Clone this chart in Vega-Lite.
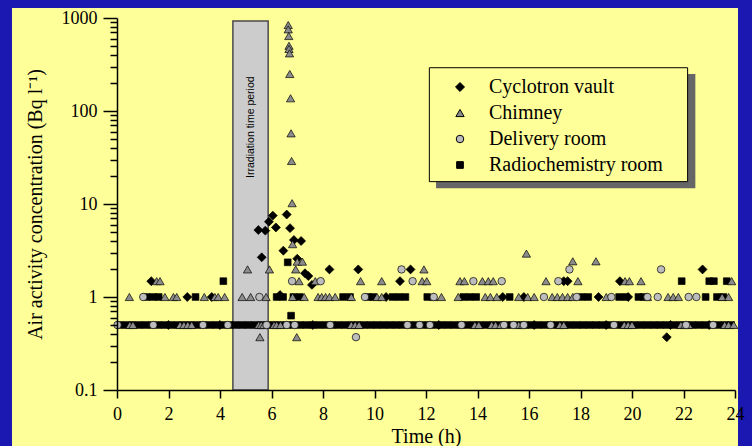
{
"$schema": "https://vega.github.io/schema/vega-lite/v6.json",
"width": 618, "height": 372,
"autosize": "none",
"padding": {"left": 117, "top": 18, "right": 17, "bottom": 56},
"background": "#1a18b0",
"config": {"view": {"stroke": null}, "font": "Liberation Serif", "axis": {"grid": false}},
"datasets": {
"irr": [{"start": 4.5, "end": 5.87, "label": "Irradiation time period"}],
"pts": [
{"s":"R","t":0.1,"v":0.5},{"s":"R","t":0.35,"v":0.5},{"s":"R","t":0.6,"v":0.5},{"s":"R","t":0.85,"v":0.5},{"s":"R","t":1.1,"v":0.5},{"s":"R","t":1.35,"v":0.5},{"s":"R","t":1.6,"v":0.5},{"s":"R","t":1.85,"v":0.5},{"s":"R","t":2.1,"v":0.5},{"s":"R","t":2.35,"v":0.5},{"s":"R","t":2.6,"v":0.5},{"s":"R","t":2.85,"v":0.5},{"s":"R","t":3.1,"v":0.5},{"s":"R","t":3.35,"v":0.5},{"s":"R","t":3.6,"v":0.5},{"s":"R","t":3.85,"v":0.5},{"s":"R","t":4.1,"v":0.5},{"s":"R","t":4.35,"v":0.5},{"s":"R","t":4.6,"v":0.5},{"s":"R","t":4.85,"v":0.5},{"s":"R","t":5.1,"v":0.5},{"s":"R","t":5.35,"v":0.5},{"s":"R","t":5.6,"v":0.5},{"s":"R","t":5.85,"v":0.5},{"s":"R","t":6.1,"v":0.5},{"s":"R","t":6.35,"v":0.5},{"s":"R","t":6.6,"v":0.5},{"s":"R","t":6.85,"v":0.5},{"s":"R","t":7.1,"v":0.5},{"s":"R","t":7.35,"v":0.5},{"s":"R","t":7.6,"v":0.5},{"s":"R","t":7.85,"v":0.5},{"s":"R","t":8.1,"v":0.5},{"s":"R","t":8.35,"v":0.5},{"s":"R","t":8.6,"v":0.5},{"s":"R","t":8.85,"v":0.5},{"s":"R","t":9.1,"v":0.5},{"s":"R","t":9.35,"v":0.5},{"s":"R","t":9.6,"v":0.5},{"s":"R","t":9.85,"v":0.5},{"s":"R","t":10.1,"v":0.5},{"s":"R","t":10.35,"v":0.5},{"s":"R","t":10.6,"v":0.5},{"s":"R","t":10.85,"v":0.5},{"s":"R","t":11.1,"v":0.5},{"s":"R","t":11.35,"v":0.5},{"s":"R","t":11.6,"v":0.5},{"s":"R","t":11.85,"v":0.5},{"s":"R","t":12.1,"v":0.5},{"s":"R","t":12.35,"v":0.5},{"s":"R","t":12.6,"v":0.5},{"s":"R","t":12.85,"v":0.5},{"s":"R","t":13.1,"v":0.5},{"s":"R","t":13.35,"v":0.5},{"s":"R","t":13.6,"v":0.5},{"s":"R","t":13.85,"v":0.5},{"s":"R","t":14.1,"v":0.5},{"s":"R","t":14.35,"v":0.5},{"s":"R","t":14.6,"v":0.5},{"s":"R","t":14.85,"v":0.5},{"s":"R","t":15.1,"v":0.5},{"s":"R","t":15.35,"v":0.5},{"s":"R","t":15.6,"v":0.5},{"s":"R","t":15.85,"v":0.5},{"s":"R","t":16.1,"v":0.5},{"s":"R","t":16.35,"v":0.5},{"s":"R","t":16.6,"v":0.5},{"s":"R","t":16.85,"v":0.5},{"s":"R","t":17.1,"v":0.5},{"s":"R","t":17.35,"v":0.5},{"s":"R","t":17.6,"v":0.5},{"s":"R","t":17.85,"v":0.5},{"s":"R","t":18.1,"v":0.5},{"s":"R","t":18.35,"v":0.5},{"s":"R","t":18.6,"v":0.5},{"s":"R","t":18.85,"v":0.5},{"s":"R","t":19.1,"v":0.5},{"s":"R","t":19.35,"v":0.5},{"s":"R","t":19.6,"v":0.5},{"s":"R","t":19.85,"v":0.5},{"s":"R","t":20.1,"v":0.5},{"s":"R","t":20.35,"v":0.5},{"s":"R","t":20.6,"v":0.5},{"s":"R","t":20.85,"v":0.5},{"s":"R","t":21.1,"v":0.5},{"s":"R","t":21.35,"v":0.5},{"s":"R","t":21.6,"v":0.5},{"s":"R","t":21.85,"v":0.5},{"s":"R","t":22.1,"v":0.5},{"s":"R","t":22.35,"v":0.5},{"s":"R","t":22.6,"v":0.5},{"s":"R","t":22.85,"v":0.5},{"s":"R","t":23.1,"v":0.5},{"s":"R","t":23.35,"v":0.5},{"s":"R","t":23.6,"v":0.5},{"s":"R","t":23.85,"v":0.5},
{"s":"R","t":1.15,"v":1},{"s":"R","t":1.4,"v":1},{"s":"R","t":1.62,"v":1},{"s":"R","t":3.05,"v":1},{"s":"R","t":6.2,"v":1},{"s":"R","t":6.45,"v":1},{"s":"R","t":6.85,"v":1},{"s":"R","t":7.1,"v":1},{"s":"R","t":8.78,"v":1},{"s":"R","t":9.05,"v":1},{"s":"R","t":9.75,"v":1},{"s":"R","t":9.95,"v":1},{"s":"R","t":10.7,"v":1},{"s":"R","t":10.95,"v":1},{"s":"R","t":11.2,"v":1},{"s":"R","t":12.05,"v":1},{"s":"R","t":13.45,"v":1},{"s":"R","t":13.7,"v":1},{"s":"R","t":13.95,"v":1},{"s":"R","t":15.25,"v":1},{"s":"R","t":18.05,"v":1},{"s":"R","t":18.3,"v":1},{"s":"R","t":19.5,"v":1},{"s":"R","t":19.75,"v":1},{"s":"R","t":20.25,"v":1},{"s":"R","t":20.45,"v":1},{"s":"R","t":22.86,"v":1},{"s":"R","t":23.3,"v":1},{"s":"R","t":23.55,"v":1},
{"s":"R","t":4.13,"v":1.48},{"s":"R","t":21.93,"v":1.48},{"s":"R","t":23.0,"v":1.48},{"s":"R","t":23.18,"v":1.48},{"s":"R","t":23.68,"v":1.48},{"s":"R","t":6.63,"v":2.36},{"s":"R","t":6.76,"v":0.63},
{"s":"C","t":2.0,"v":0.5},{"s":"C","t":4.0,"v":0.5},{"s":"C","t":7.6,"v":0.5},{"s":"C","t":12.5,"v":0.5},{"s":"C","t":16.2,"v":0.5},{"s":"C","t":19.0,"v":0.5},{"s":"C","t":21.5,"v":0.5},{"s":"C","t":23.0,"v":0.5},
{"s":"C","t":5.49,"v":5.25},{"s":"C","t":5.62,"v":2.67},{"s":"C","t":5.76,"v":5.17},{"s":"C","t":5.9,"v":6.45},{"s":"C","t":6.05,"v":7.5},{"s":"C","t":6.17,"v":5.6},{"s":"C","t":6.33,"v":1.05},{"s":"C","t":6.46,"v":3.15},{"s":"C","t":6.59,"v":7.7},{"s":"C","t":6.72,"v":5.5},{"s":"C","t":6.87,"v":4.1},{"s":"C","t":7.0,"v":2.58},{"s":"C","t":7.15,"v":4.0},{"s":"C","t":7.3,"v":1.8},{"s":"C","t":7.43,"v":1.68},{"s":"C","t":7.57,"v":1.35},
{"s":"C","t":8.25,"v":1.98},{"s":"C","t":9.37,"v":1.98},{"s":"C","t":11.4,"v":1.98},{"s":"C","t":22.74,"v":1.98},
{"s":"C","t":1.33,"v":1.48},{"s":"C","t":10.99,"v":1.48},{"s":"C","t":17.35,"v":1.48},{"s":"C","t":17.5,"v":1.48},{"s":"C","t":19.53,"v":1.48},
{"s":"C","t":2.73,"v":1},{"s":"C","t":3.68,"v":1},{"s":"C","t":10.45,"v":1},{"s":"C","t":14.98,"v":1},{"s":"C","t":15.8,"v":1},{"s":"C","t":18.7,"v":1},{"s":"C","t":19.85,"v":1},{"s":"C","t":21.35,"v":0.37},
{"s":"H","t":6.65,"v":840},{"s":"H","t":6.65,"v":755},{"s":"H","t":6.67,"v":640},{"s":"H","t":6.68,"v":503},{"s":"H","t":6.68,"v":465},{"s":"H","t":6.7,"v":417},{"s":"H","t":6.71,"v":250},{"s":"H","t":6.74,"v":137},{"s":"H","t":6.76,"v":57.5},{"s":"H","t":6.78,"v":29},{"s":"H","t":6.8,"v":10.2},{"s":"H","t":6.82,"v":3.7},
{"s":"H","t":7.0,"v":2.4},{"s":"H","t":7.2,"v":2.4},{"s":"H","t":17.7,"v":2.42},{"s":"H","t":18.6,"v":2.42},{"s":"H","t":15.9,"v":2.93},
{"s":"H","t":5.07,"v":1.98},{"s":"H","t":5.92,"v":1.98},{"s":"H","t":6.94,"v":1.98},{"s":"H","t":11.92,"v":1.98},
{"s":"H","t":1.54,"v":1.48},{"s":"H","t":1.67,"v":1.48},{"s":"H","t":7.07,"v":1.48},{"s":"H","t":7.7,"v":1.48},{"s":"H","t":9.46,"v":1.48},{"s":"H","t":10.28,"v":1.48},{"s":"H","t":11.85,"v":1.48},{"s":"H","t":12.03,"v":1.48},{"s":"H","t":13.32,"v":1.48},{"s":"H","t":13.49,"v":1.48},{"s":"H","t":14.19,"v":1.48},{"s":"H","t":14.42,"v":1.48},{"s":"H","t":14.61,"v":1.48},{"s":"H","t":16.66,"v":1.48},{"s":"H","t":17.9,"v":1.48},{"s":"H","t":19.73,"v":1.48},{"s":"H","t":19.9,"v":1.48},{"s":"H","t":20.35,"v":1.48},{"s":"H","t":23.87,"v":1.48},
{"s":"H","t":0.48,"v":1},{"s":"H","t":1.86,"v":1},{"s":"H","t":2.19,"v":1},{"s":"H","t":2.32,"v":1},{"s":"H","t":3.39,"v":1},{"s":"H","t":3.8,"v":1},{"s":"H","t":3.93,"v":1},{"s":"H","t":4.18,"v":1},{"s":"H","t":4.86,"v":1},{"s":"H","t":5.19,"v":1},{"s":"H","t":5.79,"v":1},{"s":"H","t":6.82,"v":1},{"s":"H","t":7.27,"v":1},{"s":"H","t":7.81,"v":1},{"s":"H","t":7.95,"v":1},{"s":"H","t":8.1,"v":1},{"s":"H","t":8.25,"v":1},{"s":"H","t":8.47,"v":1},{"s":"H","t":9.1,"v":1},{"s":"H","t":10.1,"v":1},{"s":"H","t":10.28,"v":1},{"s":"H","t":12.3,"v":1},{"s":"H","t":12.6,"v":1},{"s":"H","t":13.25,"v":1},{"s":"H","t":14.3,"v":1},{"s":"H","t":14.5,"v":1},{"s":"H","t":14.75,"v":1},{"s":"H","t":15.6,"v":1},{"s":"H","t":15.95,"v":1},{"s":"H","t":16.2,"v":1},{"s":"H","t":16.9,"v":1},{"s":"H","t":17.1,"v":1},{"s":"H","t":17.3,"v":1},{"s":"H","t":17.5,"v":1},{"s":"H","t":17.7,"v":1},{"s":"H","t":19.0,"v":1},{"s":"H","t":20.6,"v":1},{"s":"H","t":21.4,"v":1},{"s":"H","t":21.6,"v":1},{"s":"H","t":21.8,"v":1},{"s":"H","t":23.5,"v":1},{"s":"H","t":23.75,"v":1},
{"s":"H","t":5.55,"v":0.37},{"s":"H","t":6.98,"v":0.37},
{"s":"H","t":0.5,"v":0.5},{"s":"H","t":0.62,"v":0.5},{"s":"H","t":2.45,"v":0.5},{"s":"H","t":2.6,"v":0.5},{"s":"H","t":2.75,"v":0.5},{"s":"H","t":2.9,"v":0.5},{"s":"H","t":5.5,"v":0.5},{"s":"H","t":5.6,"v":0.5},{"s":"H","t":5.7,"v":0.5},{"s":"H","t":6.1,"v":0.5},{"s":"H","t":6.2,"v":0.5},{"s":"H","t":6.35,"v":0.5},{"s":"H","t":9.1,"v":0.5},{"s":"H","t":9.25,"v":0.5},{"s":"H","t":9.4,"v":0.5},{"s":"H","t":13.9,"v":0.5},{"s":"H","t":14.05,"v":0.5},{"s":"H","t":14.55,"v":0.5},{"s":"H","t":14.7,"v":0.5},{"s":"H","t":14.9,"v":0.5},{"s":"H","t":15.6,"v":0.5},{"s":"H","t":15.75,"v":0.5},{"s":"H","t":17.2,"v":0.5},{"s":"H","t":17.35,"v":0.5},{"s":"H","t":19.7,"v":0.5},{"s":"H","t":19.85,"v":0.5},{"s":"H","t":20.0,"v":0.5},{"s":"H","t":21.9,"v":0.5},{"s":"H","t":22.05,"v":0.5},{"s":"H","t":22.2,"v":0.5},{"s":"H","t":23.6,"v":0.5},{"s":"H","t":23.75,"v":0.5},{"s":"H","t":23.95,"v":0.5},
{"s":"D","t":1.02,"v":1},{"s":"D","t":5.53,"v":1},{"s":"D","t":9.63,"v":1},{"s":"D","t":12.3,"v":1},{"s":"D","t":16.58,"v":1},{"s":"D","t":17.85,"v":1},{"s":"D","t":19.2,"v":1},{"s":"D","t":20.6,"v":1},{"s":"D","t":21.0,"v":1},{"s":"D","t":22.2,"v":1},{"s":"D","t":22.5,"v":1},
{"s":"D","t":6.8,"v":1.48},{"s":"D","t":7.91,"v":1.48},{"s":"D","t":11.48,"v":1.48},{"s":"D","t":13.84,"v":1.48},{"s":"D","t":14.94,"v":1.48},{"s":"D","t":17.14,"v":1.48},
{"s":"D","t":11.05,"v":1.98},{"s":"D","t":17.57,"v":1.98},{"s":"D","t":21.13,"v":1.98},{"s":"D","t":9.28,"v":0.37},
{"s":"D","t":0.02,"v":0.5},{"s":"D","t":1.41,"v":0.5},{"s":"D","t":3.34,"v":0.5},{"s":"D","t":4.3,"v":0.5},{"s":"D","t":5.81,"v":0.5},{"s":"D","t":6.59,"v":0.5},{"s":"D","t":6.9,"v":0.5},{"s":"D","t":8.28,"v":0.5},{"s":"D","t":11.28,"v":0.5},{"s":"D","t":11.75,"v":0.5},{"s":"D","t":12.15,"v":0.5},{"s":"D","t":13.38,"v":0.5},{"s":"D","t":15.03,"v":0.5},{"s":"D","t":15.4,"v":0.5},{"s":"D","t":15.8,"v":0.5},{"s":"D","t":16.84,"v":0.5},{"s":"D","t":19.3,"v":0.5},{"s":"D","t":22.1,"v":0.5},{"s":"D","t":23.15,"v":0.5}
]
},
"layer": [
{"data": {"name": "irr"}, "mark": {"type": "rect", "fill": "#ffff99"},
 "encoding": {
  "x": {"datum": -4.078, "type": "quantitative", "scale": {"domain": [0, 24], "nice": false, "zero": false}},
  "x2": {"datum": 24.117},
  "y": {"datum": 1281, "type": "quantitative", "scale": {"type": "log", "domain": [0.1, 1000], "nice": false}},
  "y2": {"datum": 0.025}}},
{"data": {"name": "irr"}, "mark": {"type": "rect", "fill": "#cccccc", "stroke": "#4a4a4a", "strokeWidth": 1.5},
 "encoding": {
  "x": {"field": "start", "type": "quantitative", "scale": {"domain": [0, 24], "nice": false, "zero": false}},
  "x2": {"field": "end"},
  "y": {"datum": 930, "type": "quantitative", "scale": {"type": "log", "domain": [0.1, 1000], "nice": false}},
  "y2": {"datum": 0.1}}},
{"data": {"name": "irr"}, "mark": {"type": "text", "angle": 270, "font": "Liberation Sans", "fontSize": 10.5, "color": "black", "align": "center", "baseline": "middle"},
 "encoding": {
  "x": {"datum": 5.2, "type": "quantitative", "scale": {"domain": [0, 24], "nice": false, "zero": false}},
  "y": {"datum": 67, "type": "quantitative", "scale": {"type": "log", "domain": [0.1, 1000], "nice": false}},
  "text": {"field": "label"}}},
{"data": {"name": "irr"}, "mark": {"type": "rect", "fill": "#666666"},
 "encoding": {
  "x": {"datum": 12.39, "type": "quantitative", "scale": {"domain": [0, 24], "nice": false, "zero": false}},
  "x2": {"datum": 22.46},
  "y": {"datum": 250, "type": "quantitative", "scale": {"type": "log", "domain": [0.1, 1000], "nice": false}},
  "y2": {"datum": 14.8}}},
{"data": {"name": "irr"}, "mark": {"type": "rect", "fill": "#ffff99", "stroke": "black", "strokeWidth": 1},
 "encoding": {
  "x": {"datum": 12.13, "type": "quantitative", "scale": {"domain": [0, 24], "nice": false, "zero": false}},
  "x2": {"datum": 22.16},
  "y": {"datum": 292, "type": "quantitative", "scale": {"type": "log", "domain": [0.1, 1000], "nice": false}},
  "y2": {"datum": 17.4}}},
{"data": {"name": "pts"}, "mark": {"type": "point", "filled": true, "stroke": "black", "strokeWidth": 0.7, "opacity": 1},
 "encoding": {
  "x": {"field": "t", "type": "quantitative", "scale": {"domain": [0, 24], "nice": false, "zero": false},
   "axis": {"title": "Time (h)", "zindex": 2, "values": [0,1,2,3,4,5,6,7,8,9,10,11,12,13,14,15,16,17,18,19,20,21,22,23,24],
    "labelExpr": "datum.value % 2 == 0 ? datum.label : ''", "tickSize": 8, "tickColor": "black", "tickWidth": 1.5,
    "domainColor": "black", "domainWidth": 1.5, "labelFont": "Liberation Serif", "labelFontSize": 18, "labelColor": "black",
    "labelPadding": 7, "labelFlush": false, "labelOverlap": false, "titleFont": "Liberation Serif", "titleFontSize": 20, "titleFontWeight": "normal",
    "titleColor": "black", "titleY": 46, "titleBaseline": "middle"}},
  "y": {"field": "v", "type": "quantitative", "scale": {"type": "log", "domain": [0.1, 1000], "nice": false},
   "axis": {"title": "Air activity concentration (Bq l⁻¹)", "zindex": 2,
    "values": [0.1,0.2,0.3,0.4,0.5,0.6,0.7,0.8,0.9,1,2,3,4,5,6,7,8,9,10,20,30,40,50,60,70,80,90,100,200,300,400,500,600,700,800,900,1000],
    "labelExpr": "datum.value==0.1?'0.1':datum.value==1?'1':datum.value==10?'10':datum.value==100?'100':datum.value==1000?'1000':''",
    "tickSize": {"condition": {"test": "datum.value==0.1||datum.value==1||datum.value==10||datum.value==100||datum.value==1000", "value": 14}, "value": 7},
    "tickColor": "black", "tickWidth": 1.5, "domainColor": "black", "domainWidth": 1.5,
    "labelFont": "Liberation Serif", "labelFontSize": 18, "labelColor": "black", "labelPadding": 6, "labelOverlap": false, "labelFlush": false,
    "titleFont": "Liberation Serif", "titleFontSize": 20, "titleFontWeight": "normal", "titleColor": "black",
    "titleX": -82, "titleY": 186, "titleAngle": -90, "titleAlign": "center", "titleBaseline": "middle"}},
  "shape": {"field": "s", "type": "nominal", "scale": {"domain": ["C","H","D","R"], "range": ["diamond","triangle-up","circle","square"]},
   "legend": {"orient": "none", "legendX": 333, "legendY": 59, "title": null, "symbolSize": 130, "symbolStrokeColor": "black", "symbolStrokeWidth": 1,
    "labelFont": "Liberation Serif", "labelFontSize": 20, "labelColor": "black", "labelOffset": 19, "labelLimit": 400, "rowPadding": 6, "padding": 0,
    "labelExpr": "datum.label=='C'?'Cyclotron vault':datum.label=='H'?'Chimney':datum.label=='D'?'Delivery room':'Radiochemistry room'"}},
  "color": {"field": "s", "type": "nominal", "scale": {"domain": ["C","H","D","R"], "range": ["#000000","#8c8c8c","#bdbdbd","#000000"]},
   "legend": {"orient": "none", "legendX": 333, "legendY": 59, "title": null, "symbolSize": 130, "symbolStrokeColor": "black", "symbolStrokeWidth": 1,
    "labelFont": "Liberation Serif", "labelFontSize": 20, "labelColor": "black", "labelOffset": 19, "labelLimit": 400, "rowPadding": 6, "padding": 0,
    "labelExpr": "datum.label=='C'?'Cyclotron vault':datum.label=='H'?'Chimney':datum.label=='D'?'Delivery room':'Radiochemistry room'"}},
  "size": {"field": "s", "type": "nominal", "scale": {"domain": ["C","H","D","R"], "range": [80, 45, 55, 56]}, "legend": null}
 }}
]
}
